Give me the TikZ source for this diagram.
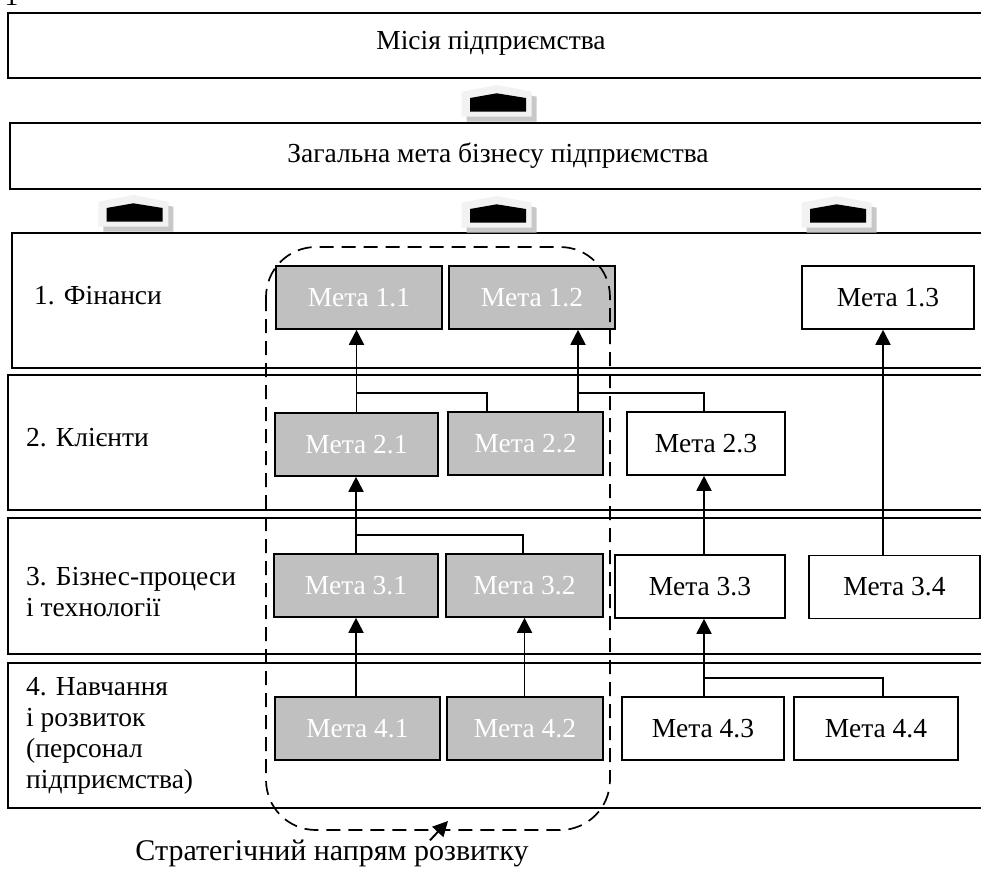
\documentclass[tikz,border=0pt]{standalone}
\usepackage{fontspec}
\setmainfont{Liberation Serif}
\usetikzlibrary{arrows.meta}
\newcommand\diagfont{\fontsize{27.5}{31}\selectfont}
\definecolor{boxgray}{HTML}{C0C0C0}
\definecolor{iconlight}{HTML}{F2F2F2}
\definecolor{iconshade}{HTML}{C8C8C8}
\begin{document}
\begin{tikzpicture}[x=1pt,y=-1pt,
  band/.style={draw, line width=1.6pt},
  goal/.style={draw, line width=1.6pt, minimum height=63pt, inner sep=0pt, font=\diagfont},
  goalg/.style={goal, fill=boxgray, text=white},
  conn/.style={line width=1.9pt},
  arr/.style={conn, -{Triangle[width=15pt,length=15pt]}},
  txt/.style={font=\diagfont, inner sep=0pt},
  upicon/.pic={
    \fill[iconshade] (5,11.7) -- (40,5) -- (75,11.7) -- (75,36.7) -- (5,36.7) -- cycle;
    \fill[iconlight] (0,6.7) -- (35,0) -- (70,6.7) -- (70,31.7) -- (0,31.7) -- cycle;
    \fill[black] (8.3,13) -- (35,8.3) -- (64.3,13) -- (64.3,26.7) -- (8.3,26.7) -- cycle;
  }
]
\useasboundingbox (0,0) rectangle (981,868);

% top partial mark
\node[txt, anchor=base] (topmark) at (11.5,5) {1};

% big boxes and bands
\draw[band] (8,12.7) rectangle (995,78);
\node[txt] (mission) at (491,43) {Місія підприємства};
\draw[band] (10,123) rectangle (995,189);
\node[txt] (goalall) at (498,156) {Загальна мета бізнесу підприємства};
\draw[band] (12,233) rectangle (995,368);
\draw[band] (8,375) rectangle (995,510);
\draw[band] (8,518) rectangle (995,654);
\draw[band] (8,663) rectangle (995,808);

% icons
\pic at (461.7,85) {upicon};
\pic at (98.3,195) {upicon};
\pic at (461.7,196) {upicon};
\pic at (801.7,196) {upicon};

% perspective labels
\node[txt, anchor=west] (p1) at (34,296) {1. Фінанси};
\node[txt, anchor=west] (p2) at (26,438) {2. Клієнти};
\node[txt, anchor=west, align=left] (p3) at (26,592) {3. Бізнес-процеси\\і технології};
\node[txt, anchor=west, align=left] (p4) at (26,736) {4. Навчання\\і розвиток\\(персонал\\підприємства)};

% goals
\node[goalg, minimum width=166pt] (m11) at (359,297.5) {Мета 1.1};
\node[goalg, minimum width=166pt] (m12) at (532,297.5) {Мета 1.2};
\node[goal,  minimum width=172pt] (m13) at (888,297.5) {Мета 1.3};
\node[goalg, minimum width=163pt] (m21) at (356.5,444.5) {Мета 2.1};
\node[goalg, minimum width=155pt] (m22) at (525.5,443.5) {Мета 2.2};
\node[goal,  minimum width=158pt] (m23) at (706,443.5) {Мета 2.3};
\node[goalg, minimum width=164pt] (m31) at (356,585.5) {Мета 3.1};
\node[goalg, minimum width=157pt] (m32) at (524.5,585.5) {Мета 3.2};
\node[goal,  minimum width=170pt] (m33) at (700,586.5) {Мета 3.3};
\node[goal,  minimum width=171pt] (m34) at (894.5,587) {Мета 3.4};
\node[goalg, minimum width=165pt] (m41) at (357.5,728.5) {Мета 4.1};
\node[goalg, minimum width=156pt] (m42) at (525,728.5) {Мета 4.2};
\node[goal,  minimum width=162pt] (m43) at (703,728.5) {Мета 4.3};
\node[goal,  minimum width=164pt] (m44) at (876,728.5) {Мета 4.4};

% junction coordinates
\coordinate (j1) at (487,393);
\coordinate (j2) at (578,393);
\coordinate (j3) at (523,535);
\coordinate (j4) at (883,678);
\coordinate (x23) at (704,0);

% connectors
\draw[arr] (m21.north) -- (m21.north |- m11.south);
\draw[conn] (m22.north -| j1) |- (m21.north |- j1);
\draw[arr] (m22.north -| j2) -- (m12.south -| j2);
\draw[conn] (m23.north -| x23) |- (j2);
\draw[arr] (m31.north) -- (m31.north |- m21.south);
\draw[conn] (m32.north -| j3) |- (m31.north |- j3);
\draw[arr] (m33.north -| x23) -- (m23.south -| x23);
\draw[arr] (m34.north -| j4) -- (m13.south -| j4);
\draw[arr] (m41.north -| m31.south) -- (m31.south);
\draw[arr] (m42.north -| m32.south) -- (m32.south);
\draw[arr] (m43.north -| x23) -- (m33.south -| x23);
\draw[conn] (m44.north -| j4) |- (j4 -| x23);

% strategic direction
\draw[line width=1.7pt, dash pattern=on 14pt off 8pt, rounded corners=50pt] (266,247) rectangle (610,830);
\node[txt, font=\fontsize{30}{34}\selectfont] (lbl) at (332,853) {Стратегічний напрям розвитку};
\coordinate (ltx) at (430,0);
\coordinate (tip) at (448,821);
\draw[arr] ([yshift=-1pt]lbl.north -| ltx) -- (tip);
\end{tikzpicture}
\end{document}
